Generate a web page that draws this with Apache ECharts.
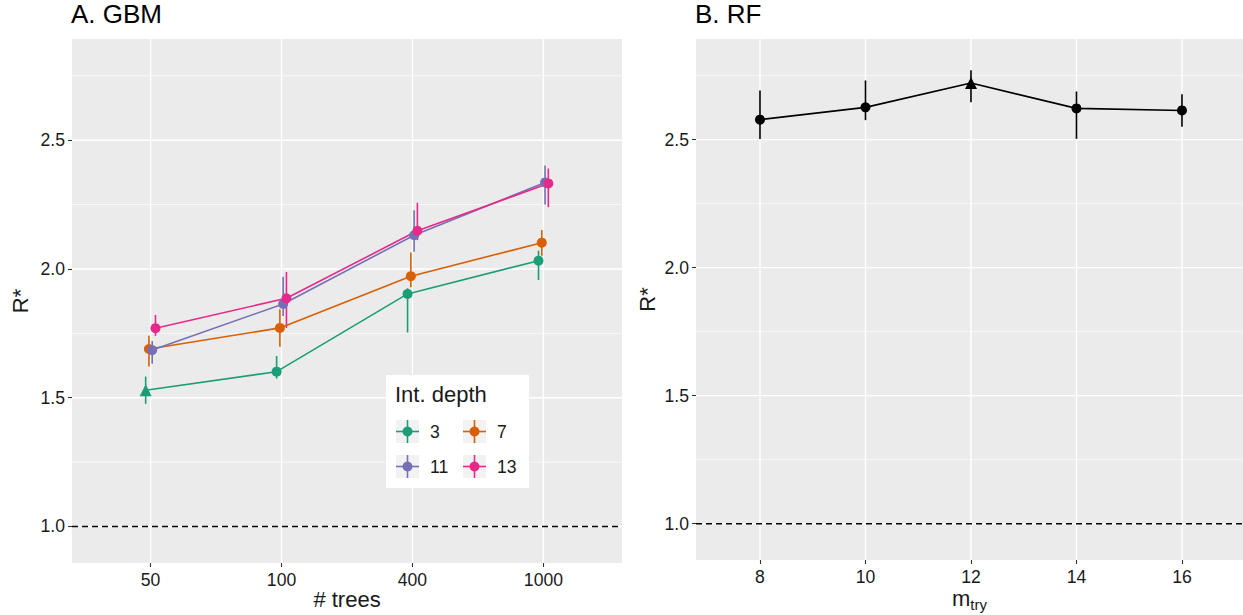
<!DOCTYPE html>
<html>
<head>
<meta charset="utf-8">
<script src="https://cdn.jsdelivr.net/npm/echarts@6/dist/echarts.min.js"></script>
<style>
  html, body { margin: 0; padding: 0; background: #ffffff; }
  #chart { width: 1243px; height: 615px; }
</style>
</head>
<body>
<div id="chart"></div>
<script>
// ---- GBM: R* by number of trees and interaction depth ----
const treeLabels = ['50', '100', '400', '1000'];
const depthLabels = ['3', '7', '11', '13'];

const gbmMean3  = [1.529, 1.601, 1.903, 2.032];
const gbmLow3   = [1.476, 1.574, 1.753, 1.957];
const gbmHigh3  = [1.582, 1.662, 1.925, 2.071];

const gbmMean7  = [1.689, 1.771, 1.972, 2.102];
const gbmLow7   = [1.621, 1.698, 1.929, 2.051];
const gbmHigh7  = [1.741, 1.843, 2.064, 2.151];

const gbmMean11 = [1.685, 1.864, 2.131, 2.336];
const gbmLow11  = [1.632, 1.817, 2.067, 2.250];
const gbmHigh11 = [1.720, 1.970, 2.228, 2.402];

const gbmMean13 = [1.770, 1.886, 2.148, 2.332];
const gbmLow13  = [1.740, 1.771, 2.112, 2.240];
const gbmHigh13 = [1.821, 1.988, 2.257, 2.390];

// configuration drawn with a triangle
const gbmSelectedDepth = '3';
const gbmSelectedTrees = '50';

// ---- RF: R* by mtry ----
const rfMtry = [8, 10, 12, 14, 16];
const rfMean = [2.578, 2.626, 2.721, 2.622, 2.614];
const rfLow  = [2.502, 2.576, 2.646, 2.503, 2.550];
const rfHigh = [2.692, 2.731, 2.771, 2.688, 2.677];
const rfSelectedMtry = 12;

// y-axis ticks shared by both panels
const yTicks = [1.0, 1.5, 2.0, 2.5];
const yMinorTicks = [1.25, 1.75, 2.25, 2.75];
const referenceLevel = 1.0;

// ---------------------------------------------------------------
const FONT = '"Liberation Sans", Arial, Helvetica, sans-serif';
const TEXT = '#1a1a1a';
const PANEL_BG = '#EBEBEB';
const depthColors = ['#1B9E77', '#D95F02', '#7570B3', '#E7298A'];
const Y_MIN = 0.858, Y_MAX = 2.893;

const gbmMeans = [gbmMean3, gbmMean7, gbmMean11, gbmMean13];
const gbmLows  = [gbmLow3, gbmLow7, gbmLow11, gbmLow13];
const gbmHighs = [gbmHigh3, gbmHigh7, gbmHigh11, gbmHigh13];

// horizontal dodge for the four depth groups (total width 0.1)
const dodge = g => (g - 1.5) * 0.025;

function hLines(axisIdx, values, width) {
  return {
    type: 'custom', xAxisIndex: axisIdx, yAxisIndex: axisIdx, silent: true, z: 1,
    data: values.map(v => [axisIdx === 0 ? 1 : 10, v]),
    renderItem(params, api) {
      const cs = params.coordSys;
      const y = api.coord([api.value(0), api.value(1)])[1];
      return { type: 'line', shape: { x1: cs.x, y1: y, x2: cs.x + cs.width, y2: y },
               style: { stroke: '#ffffff', lineWidth: width } };
    }
  };
}
function vLines(axisIdx, values, width) {
  return {
    type: 'custom', xAxisIndex: axisIdx, yAxisIndex: axisIdx, silent: true, z: 1,
    data: values.map(v => [v, 1.5]),
    renderItem(params, api) {
      const cs = params.coordSys;
      const x = api.coord([api.value(0), api.value(1)])[0];
      return { type: 'line', shape: { x1: x, y1: cs.y, x2: x, y2: cs.y + cs.height },
               style: { stroke: '#ffffff', lineWidth: width } };
    }
  };
}
function errorBars(axisIdx, rows, color) {
  return {
    type: 'custom', xAxisIndex: axisIdx, yAxisIndex: axisIdx, silent: true, z: 3,
    data: rows,
    encode: { x: 0, y: [1, 2] },
    renderItem(params, api) {
      const p1 = api.coord([api.value(0), api.value(1)]);
      const p2 = api.coord([api.value(0), api.value(2)]);
      return { type: 'line', shape: { x1: p1[0], y1: p1[1], x2: p2[0], y2: p2[1] },
               style: { stroke: color, lineWidth: 1.6 } };
    }
  };
}
function refLine(axisIdx) {
  return {
    type: 'custom', xAxisIndex: axisIdx, yAxisIndex: axisIdx, silent: true, z: 2,
    data: [[axisIdx === 0 ? 1 : 10, referenceLevel]],
    renderItem(params, api) {
      const cs = params.coordSys;
      const y = api.coord([api.value(0), api.value(1)])[1];
      return { type: 'line', shape: { x1: cs.x, y1: y, x2: cs.x + cs.width, y2: y },
               style: { stroke: '#000000', lineWidth: 1.5, lineDash: [6, 4] } };
    }
  };
}

const series = [];
// panel grid lines
series.push(hLines(0, yMinorTicks, 0.7), hLines(0, yTicks, 1.4), vLines(0, treeLabels.map((_, i) => i + 1), 1.4));
series.push(hLines(1, yMinorTicks, 0.7), hLines(1, yTicks, 1.4), vLines(1, rfMtry, 1.4));
series.push(refLine(0), refLine(1));

// GBM lines, points and intervals
depthLabels.forEach((d, g) => {
  const color = depthColors[g];
  const means = gbmMeans[g], lows = gbmLows[g], highs = gbmHighs[g];
  const xs = treeLabels.map((_, i) => i + 1 + dodge(g));
  series.push(errorBars(0, xs.map((x, i) => [x, lows[i], highs[i]]), color));
  series.push({
    type: 'line', name: d, xAxisIndex: 0, yAxisIndex: 0, z: 4, silent: true,
    data: xs.map((x, i) => {
      const sel = d === gbmSelectedDepth && treeLabels[i] === gbmSelectedTrees;
      return sel ? { value: [x, means[i]], symbol: 'triangle', symbolSize: 12 } : { value: [x, means[i]] };
    }),
    symbol: 'circle', symbolSize: 10,
    lineStyle: { color, width: 1.6 },
    itemStyle: { color, borderWidth: 0 }
  });
});

// RF line, points and intervals
series.push(errorBars(1, rfMtry.map((m, i) => [m, rfLow[i], rfHigh[i]]), '#000000'));
series.push({
  type: 'line', name: 'RF', xAxisIndex: 1, yAxisIndex: 1, z: 4, silent: true,
  data: rfMtry.map((m, i) => m === rfSelectedMtry
    ? { value: [m, rfMean[i]], symbol: 'triangle', symbolSize: 12 }
    : { value: [m, rfMean[i]] }),
  symbol: 'circle', symbolSize: 10,
  lineStyle: { color: '#000000', width: 1.6 },
  itemStyle: { color: '#000000', borderWidth: 0 }
});

const tickStyle = { show: true, length: 4, lineStyle: { color: '#333333', width: 1.1 } };
const labelStyle = { color: TEXT, fontFamily: FONT, fontSize: 17.6 };

function yAxis(gridIndex, nameGap) {
  return {
    type: 'value', gridIndex, min: Y_MIN, max: Y_MAX,
    name: 'R*', nameLocation: 'middle', nameGap, nameRotate: 90, nameMoveOverlap: false,
    nameTextStyle: { color: TEXT, fontFamily: FONT, fontSize: 22 },
    axisLine: { show: false },
    axisTick: Object.assign({ customValues: yTicks }, tickStyle),
    axisLabel: Object.assign({ customValues: yTicks, margin: 7, formatter: v => v.toFixed(1) }, labelStyle),
    splitLine: { show: false }
  };
}

// legend box for interaction depth
function legendGraphic() {
  const Z = 100;
  const children = [
    { type: 'rect', z: Z, shape: { x: 0, y: 0, width: 143, height: 113 }, style: { fill: '#ffffff' } },
    { type: 'text', z: Z + 1, x: 9, y: 8, style: { text: 'Int. depth', fill: TEXT, fontFamily: FONT, fontSize: 22 } }
  ];
  depthLabels.forEach((d, i) => {
    const col = i % 2, row = Math.floor(i / 2);
    const kx = 10 + col * 67, ky = 45 + row * 35, ks = 23;
    const cx = kx + ks / 2, cy = ky + ks / 2;
    const c = depthColors[i];
    children.push(
      { type: 'rect', z: Z + 1, shape: { x: kx, y: ky, width: ks, height: ks }, style: { fill: '#F2F2F2' } },
      { type: 'line', z: Z + 2, shape: { x1: kx, y1: cy, x2: kx + ks, y2: cy }, style: { stroke: c, lineWidth: 1.6 } },
      { type: 'line', z: Z + 2, shape: { x1: cx, y1: ky, x2: cx, y2: ky + ks }, style: { stroke: c, lineWidth: 1.6 } },
      { type: 'circle', z: Z + 3, shape: { cx, cy, r: 5 }, style: { fill: c } },
      { type: 'text', z: Z + 1, x: kx + 34, y: cy, style: { text: d, fill: TEXT, fontFamily: FONT, fontSize: 17.6, verticalAlign: 'middle' } }
    );
  });
  return { type: 'group', x: 386, y: 375, z: Z, silent: true, children };
}

const option = {
  animation: false,
  backgroundColor: '#ffffff',
  title: [
    { text: 'A. GBM', left: 71, top: 1, padding: 0, textStyle: { color: '#000', fontFamily: FONT, fontSize: 26, fontWeight: 'normal' } },
    { text: 'B. RF', left: 695, top: 1, padding: 0, textStyle: { color: '#000', fontFamily: FONT, fontSize: 26, fontWeight: 'normal' } }
  ],
  grid: [
    { left: 72, top: 39, width: 550, height: 524, show: true, backgroundColor: PANEL_BG, borderWidth: 0,
      containLabel: false, outerBoundsMode: 'none' },
    { left: 696, top: 39, width: 547, height: 521, show: true, backgroundColor: PANEL_BG, borderWidth: 0,
      containLabel: false, outerBoundsMode: 'none' }
  ],
  xAxis: [
    {
      type: 'value', gridIndex: 0, min: 0.4, max: 4.6,
      name: '# trees', nameLocation: 'middle', nameGap: 25, nameMoveOverlap: false,
      nameTextStyle: { color: TEXT, fontFamily: FONT, fontSize: 22 },
      axisLine: { show: false },
      axisTick: Object.assign({ customValues: [1, 2, 3, 4] }, tickStyle),
      axisLabel: Object.assign({ customValues: [1, 2, 3, 4], margin: 8,
        formatter: v => treeLabels[Math.round(v) - 1] || '' }, labelStyle),
      splitLine: { show: false }
    },
    {
      type: 'value', gridIndex: 1, min: 6.787, max: 17.157,
      name: '{m|m}{s|try}', nameLocation: 'middle', nameGap: 27, nameMoveOverlap: false,
      nameTextStyle: {
        color: TEXT, fontFamily: FONT, fontSize: 22,
        rich: {
          m: { color: TEXT, fontFamily: FONT, fontSize: 22, lineHeight: 30, verticalAlign: 'top' },
          s: { color: TEXT, fontFamily: FONT, fontSize: 15, lineHeight: 30, verticalAlign: 'top', padding: [10, 0, 0, 0] }
        }
      },
      axisLine: { show: false },
      axisTick: Object.assign({ customValues: rfMtry }, tickStyle),
      axisLabel: Object.assign({ customValues: rfMtry, margin: 8 }, labelStyle),
      splitLine: { show: false }
    }
  ],
  yAxis: [yAxis(0, 41), yAxis(1, 38)],
  series,
  graphic: [legendGraphic()]
};

const chart = echarts.init(document.getElementById('chart'), null, { renderer: 'svg' });
chart.setOption(option);
</script>
</body>
</html>
